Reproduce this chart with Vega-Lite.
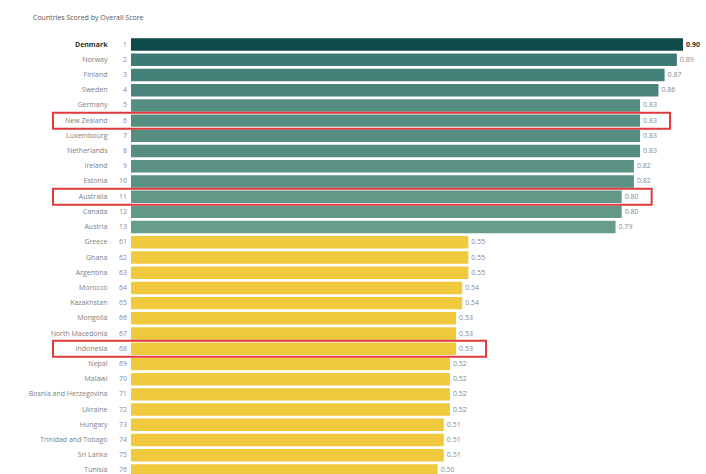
{
  "$schema": "https://vega.github.io/schema/vega-lite/v6.json",
  "width": 552,
  "height": 441,
  "autosize": "none",
  "padding": {"left": 131, "top": 37, "right": 23, "bottom": 0},
  "background": "white",
  "title": {"text": "Countries Scored by Overall Score", "anchor": "start", "frame": "group", "fontSize": 7, "font": "Open Sans", "fontWeight": "normal", "color": "#555", "dx": -98, "offset": 16},
  "config": {"view": {"stroke": null}, "font": "Open Sans"},
  "data": {"values": [
    {"country": "Denmark", "rank": 1, "value": 0.90, "highlight": false, "top": true},
    {"country": "Norway", "rank": 2, "value": 0.89, "highlight": false, "top": false},
    {"country": "Finland", "rank": 3, "value": 0.87, "highlight": false, "top": false},
    {"country": "Sweden", "rank": 4, "value": 0.86, "highlight": false, "top": false},
    {"country": "Germany", "rank": 5, "value": 0.83, "highlight": false, "top": false},
    {"country": "New Zealand", "rank": 6, "value": 0.83, "highlight": true, "top": false},
    {"country": "Luxembourg", "rank": 7, "value": 0.83, "highlight": false, "top": false},
    {"country": "Netherlands", "rank": 8, "value": 0.83, "highlight": false, "top": false},
    {"country": "Ireland", "rank": 9, "value": 0.82, "highlight": false, "top": false},
    {"country": "Estonia", "rank": 10, "value": 0.82, "highlight": false, "top": false},
    {"country": "Australia", "rank": 11, "value": 0.80, "highlight": true, "top": false},
    {"country": "Canada", "rank": 12, "value": 0.80, "highlight": false, "top": false},
    {"country": "Austria", "rank": 13, "value": 0.79, "highlight": false, "top": false},
    {"country": "Greece", "rank": 61, "value": 0.55, "highlight": false, "top": false},
    {"country": "Ghana", "rank": 62, "value": 0.55, "highlight": false, "top": false},
    {"country": "Argentina", "rank": 63, "value": 0.55, "highlight": false, "top": false},
    {"country": "Morocco", "rank": 64, "value": 0.54, "highlight": false, "top": false},
    {"country": "Kazakhstan", "rank": 65, "value": 0.54, "highlight": false, "top": false},
    {"country": "Mongolia", "rank": 66, "value": 0.53, "highlight": false, "top": false},
    {"country": "North Macedonia", "rank": 67, "value": 0.53, "highlight": false, "top": false},
    {"country": "Indonesia", "rank": 68, "value": 0.53, "highlight": true, "top": false},
    {"country": "Nepal", "rank": 69, "value": 0.52, "highlight": false, "top": false},
    {"country": "Malawi", "rank": 70, "value": 0.52, "highlight": false, "top": false},
    {"country": "Bosnia and Herzegovina", "rank": 71, "value": 0.52, "highlight": false, "top": false},
    {"country": "Ukraine", "rank": 72, "value": 0.52, "highlight": false, "top": false},
    {"country": "Hungary", "rank": 73, "value": 0.51, "highlight": false, "top": false},
    {"country": "Trinidad and Tobago", "rank": 74, "value": 0.51, "highlight": false, "top": false},
    {"country": "Sri Lanka", "rank": 75, "value": 0.51, "highlight": false, "top": false},
    {"country": "Tunisia", "rank": 76, "value": 0.50, "highlight": false, "top": false}
  ]},
  "encoding": {
    "y": {"field": "country", "type": "nominal", "sort": {"field": "rank", "op": "min", "order": "ascending"},
      "scale": {"paddingInner": 0.18, "paddingOuter": 0.09},
      "axis": {"title": null, "ticks": false, "domain": false, "labelPadding": 24, "labelFontSize": 7, "labelFont": "Open Sans",
        "labelColor": {"expr": "datum.value == 'Denmark' ? '#333333' : '#808080'"},
        "labelFontWeight": {"expr": "datum.value == 'Denmark' ? 'bold' : 'normal'"}}}
  },
  "layer": [
    {
      "mark": {"type": "bar"},
      "encoding": {
        "x": {"field": "value", "type": "quantitative", "scale": {"domain": [0, 0.9], "nice": false}, "axis": null},
        "color": {"field": "value", "type": "quantitative", "legend": null,
          "scale": {"domain": [0.5, 0.6, 0.78, 0.89, 0.9], "range": ["#f0c93c", "#f0c93c", "#6c9f8e", "#3d7a74", "#0f4a4b"]}}
      }
    },
    {
      "transform": [{"filter": "!datum.top"}],
      "mark": {"type": "text", "align": "left", "baseline": "middle", "dx": 3, "fontSize": 7, "color": "#888888"},
      "encoding": {
        "x": {"field": "value", "type": "quantitative"},
        "text": {"field": "value", "type": "quantitative", "format": ".2f"}
      }
    },
    {
      "transform": [{"filter": "datum.top"}],
      "mark": {"type": "text", "align": "left", "baseline": "middle", "dx": 3, "fontSize": 7, "fontWeight": "bold", "color": "#333333"},
      "encoding": {
        "x": {"field": "value", "type": "quantitative"},
        "text": {"field": "value", "type": "quantitative", "format": ".2f"}
      }
    },
    {
      "mark": {"type": "text", "align": "right", "baseline": "middle", "dx": -4, "fontSize": 7, "color": "#8a8a9a"},
      "encoding": {
        "x": {"datum": 0, "type": "quantitative"},
        "text": {"field": "rank", "type": "nominal"}
      }
    },
    {
      "transform": [{"filter": "datum.highlight"}],
      "mark": {"type": "rect", "fill": "white", "fillOpacity": 0, "stroke": "#e0393e", "strokeWidth": 2, "xOffset": 30, "x2Offset": -78, "height": 16},
      "encoding": {
        "x": {"field": "value", "type": "quantitative"},
        "x2": {"datum": 0}
      }
    }
  ]
}
